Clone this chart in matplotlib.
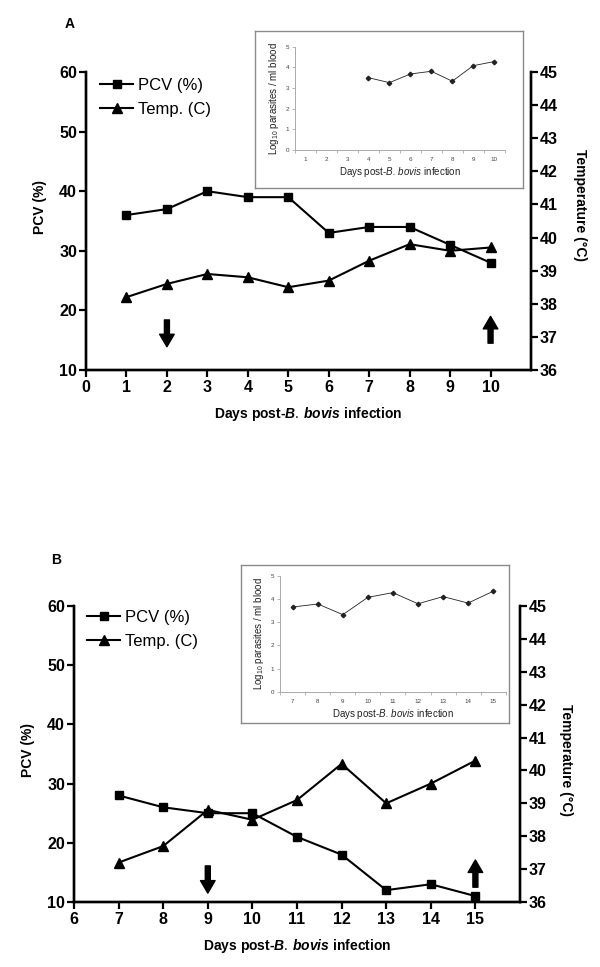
import matplotlib
matplotlib.use("Agg")
import matplotlib.pyplot as plt

plt.rcParams['font.family'] = ['Liberation Sans', 'DejaVu Sans']
plt.rcParams['mathtext.fontset'] = 'custom'
plt.rcParams['mathtext.rm'] = 'Liberation Sans'
plt.rcParams['mathtext.it'] = 'Liberation Sans:italic:bold'
plt.rcParams['mathtext.sf'] = 'Liberation Sans:italic'
plt.rcParams['mathtext.bf'] = 'Liberation Sans:bold'

# panel A data
days_a = [1, 2, 3, 4, 5, 6, 7, 8, 9, 10]
pcv_a = [36, 37, 40, 39, 39, 33, 34, 34, 31, 28]
temp_a = [38.2, 38.6, 38.9, 38.8, 38.5, 38.7, 39.3, 39.8, 39.6, 39.7]
par_days_a = [4, 5, 6, 7, 8, 9, 10]
par_a = [3.50, 3.26, 3.68, 3.81, 3.33, 4.08, 4.28]
inset_ticks_a = [1, 2, 3, 4, 5, 6, 7, 8, 9, 10]
down_a = (2, 18.4, 13.9)   # day, from, to
up_a = (10, 14.5, 19.0)

# panel B data
days_b = [7, 8, 9, 10, 11, 12, 13, 14, 15]
pcv_b = [28, 26, 25, 25, 21, 18, 12, 13, 11]
temp_b = [37.2, 37.7, 38.8, 38.5, 39.1, 40.2, 39.0, 39.6, 40.3]
par_days_b = [7, 8, 9, 10, 11, 12, 13, 14, 15]
par_b = [3.66, 3.79, 3.33, 4.08, 4.28, 3.80, 4.11, 3.83, 4.34]
inset_ticks_b = [7, 8, 9, 10, 11, 12, 13, 14, 15]
down_b = (9, 16.1, 11.5)
up_b = (15, 12.5, 17.1)

W, H = 600, 967
fig = plt.figure(figsize=(W / 100, H / 100), dpi=100)


def box(x0, y0, x1, y1):
    return [x0 / W, 1 - y1 / H, (x1 - x0) / W, (y1 - y0) / H]


def arrow(ax, spec):
    d, y0, y1 = spec
    ax.annotate('', xy=(d, y1), xytext=(d, y0),
                arrowprops=dict(facecolor='black', edgecolor='black',
                                width=3.6, headwidth=10.5, headlength=9,
                                shrink=0))


def panel(rect, days, pcv, temp, xlim, xticks, down, up, leg_xy,
          letter_xy, letter, ylab_xy, tlab_xy):
    ax = fig.add_axes(box(*rect))
    ax.plot(days, pcv, color='black', lw=1.5, marker='s', ms=6,
            label='PCV (%)', clip_on=False, zorder=3)
    ax.set_xlim(*xlim)
    ax.set_ylim(10, 60)
    ax.set_xticks(xticks)
    ax.set_yticks([10, 20, 30, 40, 50, 60])
    ax2 = ax.twinx()
    ax2.plot(days, temp, color='black', lw=1.5, marker='^', ms=6.5,
             label='Temp. (C)', clip_on=False, zorder=3)
    ax2.set_ylim(36, 45)
    ax2.set_yticks(range(36, 46))
    for a in (ax, ax2):
        a.spines['top'].set_visible(False)
        for s in a.spines.values():
            s.set_linewidth(1.7)
        a.tick_params(width=1.6, length=5, pad=1.5, labelsize=11.5)
        for lab in a.get_xticklabels() + a.get_yticklabels():
            lab.set_fontweight('bold')
    ax.tick_params(axis='x', pad=2.5)
    arrow(ax, down)
    arrow(ax, up)
    ax.set_xlabel(r'Days post-$\mathit{B.\,bovis}$ infection',
                  fontweight='bold', fontsize=10, labelpad=7)
    fig.text(ylab_xy[0] / W, 1 - ylab_xy[1] / H, 'PCV (%)', rotation=90,
             fontweight='bold', fontsize=10, ha='center', va='center')
    fig.text(tlab_xy[0] / W, 1 - tlab_xy[1] / H, 'Temperature (°C)',
             rotation=270, fontweight='bold', fontsize=10,
             ha='center', va='center')
    fig.text(letter_xy[0] / W, 1 - letter_xy[1] / H, letter,
             fontweight='bold', fontsize=10, ha='center', va='center')
    h1, l1 = ax.get_legend_handles_labels()
    h2, l2 = ax2.get_legend_handles_labels()
    fig.legend(h1 + h2, l1 + l2, loc='upper left',
               bbox_to_anchor=(leg_xy[0] / W, 1 - leg_xy[1] / H),
               frameon=False, fontsize=12, handlelength=2.0,
               handletextpad=0.3, labelspacing=0.55, borderpad=0,
               borderaxespad=0)
    return ax


def inset(frame, inner, pdays, pvals, ticks):
    fr = fig.add_axes(box(*frame))
    fr.set_xticks([])
    fr.set_yticks([])
    for s in fr.spines.values():
        s.set_color('#8a8a8a')
        s.set_linewidth(1.0)
    ia = fig.add_axes(box(*inner))
    ia.plot(pdays, pvals, color='#222222', lw=0.6, marker='D', ms=2.3)
    ia.set_xlim(ticks[0] - 0.5, ticks[-1] + 0.5)
    ia.set_ylim(0, 5)
    ia.set_xticks(ticks)
    ia.set_xticks([t + 0.5 for t in [ticks[0] - 1] + ticks], minor=True)
    ia.set_yticks(range(0, 6))
    ia.patch.set_alpha(0)
    for s in ('top', 'right'):
        ia.spines[s].set_visible(False)
    for s in ('left', 'bottom'):
        ia.spines[s].set_color('#aaaaaa')
        ia.spines[s].set_linewidth(0.7)
    ia.tick_params(axis='x', which='major', length=0, pad=5, labelsize=4.5,
                   labelcolor='#444444')
    ia.tick_params(axis='x', which='minor', length=2.5, color='#aaaaaa',
                   width=0.6)
    ia.tick_params(axis='y', length=2.5, color='#aaaaaa', width=0.6, pad=2,
                   labelsize=4.5, labelcolor='#444444')
    ia.set_xlabel(r'Days post-$\mathsf{B.\,bovis}$ infection',
                  fontsize=7, labelpad=2.5, color='#222222')
    ia.set_ylabel(r'Log$_{\mathrm{10}}$ parasites / ml blood', fontsize=7,
                  labelpad=3, color='#222222')


panel((86, 72, 531, 370), days_a, pcv_a, temp_a, (0, 11), range(0, 11),
      down_a, up_a, (100, 78), (70, 24), 'A', (40, 207), (580, 205))
panel((74, 606, 520, 902), days_b, pcv_b, temp_b, (6, 16), range(6, 16),
      down_b, up_b, (87, 610), (56, 560), 'B', (28, 750), (566, 760))

inset((255, 31, 523, 188), (295.2, 46.7, 504.6, 150), par_days_a, par_a,
      inset_ticks_a)
inset((241, 565, 509, 723), (280.2, 576, 505.7, 691.7), par_days_b, par_b,
      inset_ticks_b)

fig.savefig('out.png', dpi=100)
